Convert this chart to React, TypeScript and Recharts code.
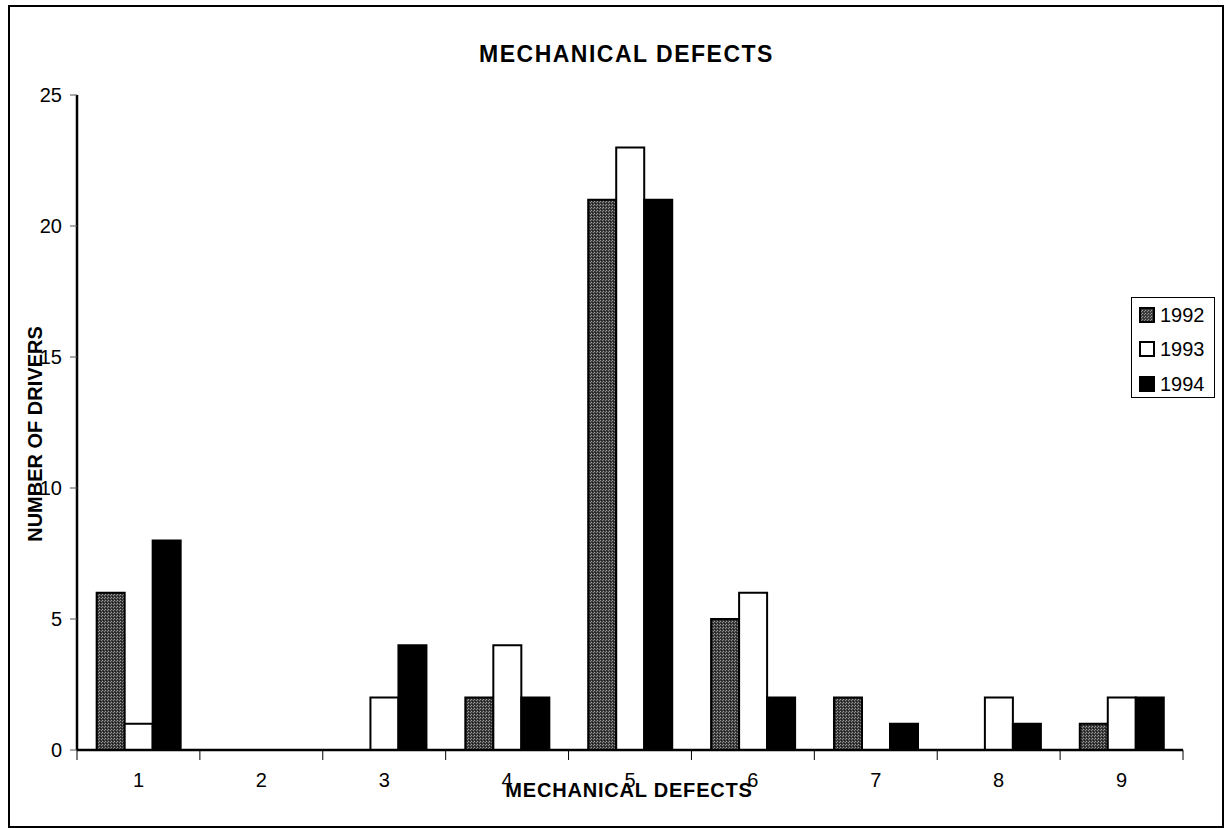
import { Bar, BarChart, XAxis, YAxis } from "recharts";

const categories = ["1", "2", "3", "4", "5", "6", "7", "8", "9"];
const y1992 = [6, 0, 0, 2, 21, 5, 2, 0, 1];
const y1993 = [1, 0, 2, 4, 23, 6, 0, 2, 2];
const y1994 = [8, 0, 4, 2, 21, 2, 1, 1, 2];
const yTicks = [0, 5, 10, 15, 20, 25];

const data = categories.map((label, i) => ({
  label,
  y1992: y1992[i],
  y1993: y1993[i],
  y1994: y1994[i],
}));

const FONT = "'Liberation Sans', Arial, sans-serif";
const W = 1229;
const H = 828;
const PLOT_LEFT = 77;
const PLOT_RIGHT = 1183;
const BAND = (PLOT_RIGHT - PLOT_LEFT) / categories.length;

function CategoryTick(props: any) {
  const { x, y, payload, index } = props;
  const left = x - BAND / 2;
  return (
    <g>
      <line x1={left} y1={y - 8} x2={left} y2={y + 2} stroke="#000" strokeWidth={1} />
      {index === categories.length - 1 ? (
        <line x1={left + BAND} y1={y - 8} x2={left + BAND} y2={y + 2} stroke="#000" strokeWidth={1} />
      ) : null}
      <text x={x} y={y + 29} textAnchor="middle" fontSize={20} fontFamily={FONT} fill="#000">
        {payload.value}
      </text>
    </g>
  );
}

const legendItems = [
  { name: "1992", fill: "url(#lgstipple)" },
  { name: "1993", fill: "#fff" },
  { name: "1994", fill: "#000" },
];

export default function App() {
  return (
    <div style={{ position: "absolute", left: 0, top: 0, width: W, height: H, background: "#fff", fontFamily: FONT }}>
      <div
        style={{
          position: "absolute",
          left: 8,
          top: 5,
          width: 1212,
          height: 819,
          border: "2px solid #000",
        }}
      />
      <BarChart
        width={W}
        height={H}
        data={data}
        margin={{ top: 95, right: W - PLOT_RIGHT, left: 0, bottom: 48 }}
        barCategoryGap="16%"
        barGap={0}
        style={{ position: "absolute", left: 0, top: 0 }}
      >
        <defs>
          <pattern id="stipple" width="3" height="3" patternUnits="userSpaceOnUse">
            <rect width="3" height="3" fill="#3c3c3c" />
            <rect x="0" y="0" width="1" height="1" fill="#a0a0a0" />
            <rect x="2" y="1" width="1" height="1" fill="#8a8a8a" />
            <rect x="1" y="2" width="1" height="1" fill="#1a1a1a" />
          </pattern>
        </defs>
        <XAxis
          dataKey="label"
          height={30}
          axisLine={{ stroke: "#000", strokeWidth: 2.5 }}
          tickLine={false}
          tick={<CategoryTick />}
          interval={0}
        />
        <XAxis
          xAxisId="top"
          orientation="top"
          dataKey="label"
          height={0}
          tick={false}
          tickLine={false}
          axisLine={{ stroke: "#000", strokeWidth: 2.5 }}
        />
        <YAxis
          domain={[0, 25]}
          ticks={yTicks}
          width={PLOT_LEFT}
          tickSize={7}
          tickMargin={8}
          axisLine={{ stroke: "#000", strokeWidth: 2.5 }}
          tickLine={{ stroke: "#555" }}
          tick={{ fill: "#000", fontSize: 20, fontFamily: FONT }}
        />
        <YAxis
          yAxisId="right"
          orientation="right"
          domain={[0, 25]}
          width={0}
          tick={false}
          tickLine={false}
          axisLine={{ stroke: "#000", strokeWidth: 2.5 }}
        />
        <Bar dataKey="y1992" name="1992" fill="url(#stipple)" stroke="#000" strokeWidth={2} isAnimationActive={false} />
        <Bar dataKey="y1993" name="1993" fill="#fff" stroke="#000" strokeWidth={2} isAnimationActive={false} />
        <Bar dataKey="y1994" name="1994" fill="#000" stroke="#000" strokeWidth={2} isAnimationActive={false} />
      </BarChart>
      <div
        style={{
          position: "absolute",
          left: 0,
          width: 1253,
          top: 41,
          textAlign: "center",
          fontSize: 23,
          fontWeight: "bold",
          letterSpacing: 1.5,
        }}
      >
        MECHANICAL DEFECTS
      </div>
      <div
        style={{
          position: "absolute",
          left: 0,
          width: 1258,
          top: 779,
          textAlign: "center",
          fontSize: 20,
          fontWeight: "bold",
          letterSpacing: 0.8,
        }}
      >
        MECHANICAL DEFECTS
      </div>
      <div
        style={{
          position: "absolute",
          left: 35,
          top: 434,
          transform: "translate(-50%, -50%) rotate(-90deg)",
          whiteSpace: "nowrap",
          fontSize: 20,
          fontWeight: "bold",
        }}
      >
        NUMBER OF DRIVERS
      </div>
      <div
        style={{
          position: "absolute",
          left: 1131,
          top: 297,
          width: 84,
          height: 101,
          border: "1px solid #000",
          background: "#fff",
          boxSizing: "border-box",
          padding: "0 0 0 7px",
        }}
      >
        <svg width={0} height={0} style={{ position: "absolute" }}>
          <defs>
            <pattern id="lgstipple" width="3" height="3" patternUnits="userSpaceOnUse">
              <rect width="3" height="3" fill="#3c3c3c" />
              <rect x="0" y="0" width="1" height="1" fill="#a0a0a0" />
              <rect x="2" y="1" width="1" height="1" fill="#8a8a8a" />
            </pattern>
          </defs>
        </svg>
        {legendItems.map((item) => (
          <div key={item.name} style={{ display: "flex", alignItems: "center", height: 34.5, fontSize: 20 }}>
            <svg width={17} height={17} style={{ marginRight: 4 }}>
              <rect x={1} y={1} width={14} height={14} fill={item.fill} stroke="#000" strokeWidth={2} />
            </svg>
            {item.name}
          </div>
        ))}
      </div>
    </div>
  );
}
